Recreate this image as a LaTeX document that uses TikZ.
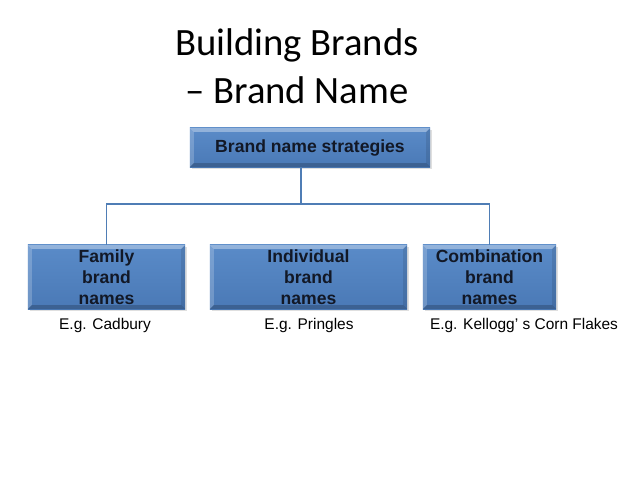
\documentclass[tikz,border=0pt]{standalone}
\usepackage{fontspec}
\setmainfont{Liberation Sans}
\newfontfamily\titlefont{Carlito}
\usepackage{tikz}
\usetikzlibrary{shadows}

\definecolor{boxblue}{HTML}{4F81BD}
\definecolor{boxtop}{HTML}{5A8BC8}
\definecolor{boxbot}{HTML}{4A79B6}
\definecolor{linkblue}{HTML}{4F7DB5}
\definecolor{boxtext}{HTML}{121826}

\tikzset{
  bevel/.style={path picture={
    \fill[white, opacity=0.35] (path picture bounding box.north west) -- (path picture bounding box.north east)
      -- ([xshift=-0.1cm, yshift=-0.1cm]path picture bounding box.north east)
      -- ([xshift=0.1cm, yshift=-0.1cm]path picture bounding box.north west) -- cycle;
    \fill[white, opacity=0.2] (path picture bounding box.north west) -- ([xshift=0.1cm, yshift=-0.1cm]path picture bounding box.north west)
      -- ([xshift=0.1cm, yshift=0.1cm]path picture bounding box.south west)
      -- (path picture bounding box.south west) -- cycle;
    \fill[black, opacity=0.2] (path picture bounding box.south west) -- (path picture bounding box.south east)
      -- ([xshift=-0.1cm, yshift=0.1cm]path picture bounding box.south east)
      -- ([xshift=0.1cm, yshift=0.1cm]path picture bounding box.south west) -- cycle;
    \fill[black, opacity=0.1] (path picture bounding box.north east) -- ([xshift=-0.1cm, yshift=-0.1cm]path picture bounding box.north east)
      -- ([xshift=-0.1cm, yshift=0.1cm]path picture bounding box.south east)
      -- (path picture bounding box.south east) -- cycle;
  }},
  brandbox/.style={rectangle, top color=boxtop, bottom color=boxbot, bevel,
    inner sep=0pt, align=center,
    text=boxtext, font=\fontsize{12.5}{15}\selectfont\bfseries,
    drop shadow={opacity=0.25, shadow xshift=0.04cm, shadow yshift=-0.05cm}},
  example/.style={font=\fontsize{11}{13}\selectfont, text=black},
  link/.style={draw=linkblue, line width=1.1pt}
}

\begin{document}
\begin{tikzpicture}[x=0.025cm, y=-0.025cm]
  \useasboundingbox[fill=white] (0,0) rectangle (638,479);
  \node[font=\titlefont\fontsize{27.5}{34}\selectfont, align=center] (title) at (297,66)
    {Building Brands\\ – Brand Name};

  \node[brandbox, minimum width=6cm, minimum height=0.975cm] (strat) at (310,147.5)
    {Brand name strategies};
  \node[brandbox, minimum width=3.925cm, minimum height=1.6cm] (family) at (106.5,277)
    {Family\\ brand\\ names};
  \node[brandbox, minimum width=4.925cm, minimum height=1.6cm] (indiv) at (308.5,277)
    {Individual\\ brand\\ names};
  \node[brandbox, minimum width=3.325cm, minimum height=1.6cm] (combo) at (489.5,277)
    {Combination\\ brand\\ names};

  \node[example] (egfamily) at (105,325) {E.g. Cadbury};
  \node[example] (egindiv) at (309,325) {E.g. Pringles};
  \node[example] (egcombo) at (524,325) {E.g. Kellogg’ s Corn Flakes};

  \coordinate (split) at (301,204);
  \draw[link] (strat.south -| split) -- (split);
  \draw[link] (split) -| (family.north);
  \draw[link] (split) -| (combo.north);
\end{tikzpicture}
\end{document}
